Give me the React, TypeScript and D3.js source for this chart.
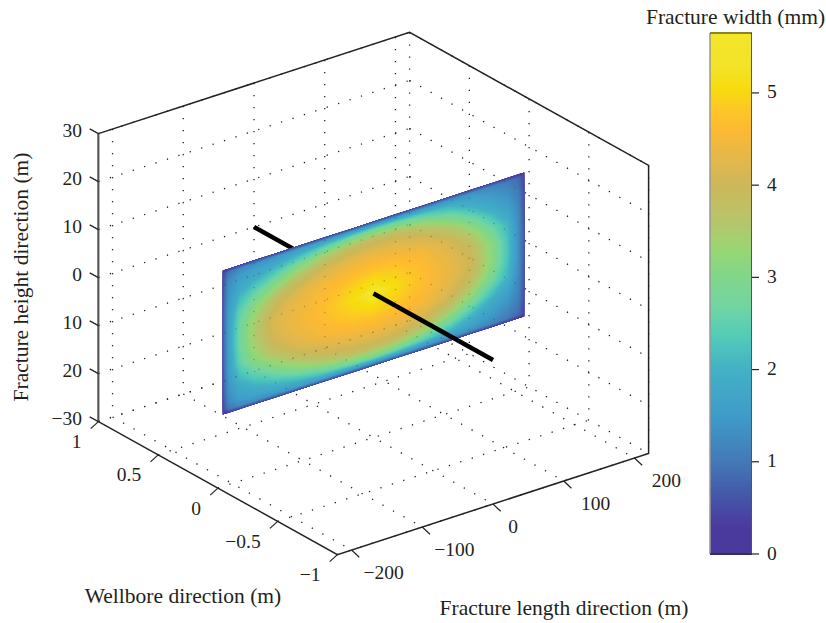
import React from "react";
import * as d3 from "d3";

const WIDTH = 826;
const HEIGHT = 623;
const FONT = "'Liberation Serif', serif";
const INK = "#231f20";

// axis extents and ticks
const xExtent = [-220, 220];
const yExtent = [1, -1];
const zExtent = [-30, 30];
const xTicks = [-200, -100, 0, 100, 200];
const xTickLabels = ["\u2212200", "\u2212100", "0", "100", "200"];
const yTicks = [1, 0.5, 0, -0.5, -1];
const yTickLabels = ["1", "0.5", "0", "\u22120.5", "\u22121"];
const zTicks = [30, 20, 10, 0, -10, -20, -30];
const zTickLabels = ["30", "20", "10", "0", "10", "20", "\u221230"];
const barTicks = [0, 1, 2, 3, 4, 5];
const barMax = 5.65;

// colour bar
const colorValues = [0, 0.3, 0.6, 1, 1.5, 2, 2.35, 2.7, 3, 3.3, 3.6, 4, 4.3, 4.6, 4.8, 5.05, 5.3, 5.65];
const colorHexes = [
  "#4b3a9e", "#4b3a9e", "#4555a8", "#4379b6", "#3f9cc9", "#43b1c5", "#52cbb8", "#74d5a2", "#80d68a",
  "#99d673", "#b6c56b", "#cdb759", "#e5b84a", "#fdb932", "#fdc628", "#f7dc0e", "#f3e32a", "#f3e627",
];

// the fracture plane: sample positions (m) and widths (mm) read by eye
const lengthNodes = [-213, -205, -190, -170, -140, -110, -70, -30, 0, 30, 70, 110, 140, 170, 190, 205, 213];
const heightNodes = [15, 14.25, 13, 11, 8.5, 5.5, 2.5, 0, -2.5, -5.5, -8.5, -11, -13, -14.25, -15];
const widthRows = [
  [0.3, 0.35, 0.38, 0.4, 0.42, 0.45, 0.45, 0.45, 0.45, 0.45, 0.45, 0.42, 0.4, 0.38, 0.35, 0.32, 0.3],
  [0.45, 1.0, 1.25, 1.35, 1.45, 1.55, 1.65, 1.65, 1.7, 1.65, 1.55, 1.45, 1.35, 1.2, 1.05, 0.85, 0.45],
  [0.55, 1.2, 1.5, 1.65, 1.8, 2.05, 2.5, 2.9, 3.0, 2.9, 2.45, 2.0, 1.7, 1.4, 1.2, 0.95, 0.5],
  [0.6, 1.35, 1.7, 1.95, 2.35, 2.9, 3.5, 3.85, 3.9, 3.85, 3.45, 2.75, 2.1, 1.65, 1.4, 1.1, 0.55],
  [0.65, 1.45, 2.05, 2.5, 3.1, 3.65, 4.1, 4.3, 4.35, 4.3, 4.1, 3.55, 2.85, 2.05, 1.65, 1.2, 0.6],
  [0.7, 1.55, 2.45, 3.1, 3.8, 4.2, 4.5, 4.65, 4.7, 4.65, 4.5, 4.1, 3.55, 2.65, 2.05, 1.3, 0.65],
  [0.7, 1.6, 2.65, 3.4, 4.1, 4.4, 4.65, 4.95, 5.1, 4.95, 4.65, 4.3, 3.9, 3.05, 2.2, 1.35, 0.7],
  [0.7, 1.6, 2.7, 3.5, 4.2, 4.45, 4.7, 5.1, 5.65, 5.1, 4.7, 4.35, 4.0, 3.1, 2.25, 1.35, 0.7],
  [0.7, 1.6, 2.65, 3.4, 4.1, 4.4, 4.65, 4.95, 5.1, 4.95, 4.65, 4.3, 3.9, 3.05, 2.2, 1.35, 0.7],
  [0.7, 1.55, 2.5, 3.15, 3.8, 4.2, 4.5, 4.65, 4.7, 4.65, 4.5, 4.1, 3.55, 2.65, 2.05, 1.3, 0.65],
  [0.65, 1.45, 2.1, 2.55, 3.1, 3.65, 4.1, 4.3, 4.35, 4.3, 4.1, 3.55, 2.85, 2.05, 1.65, 1.2, 0.6],
  [0.6, 1.35, 1.75, 2.0, 2.4, 2.9, 3.5, 3.85, 3.9, 3.85, 3.45, 2.75, 2.1, 1.65, 1.4, 1.1, 0.55],
  [0.55, 1.2, 1.55, 1.7, 1.85, 2.05, 2.5, 2.9, 3.0, 2.9, 2.45, 2.0, 1.7, 1.4, 1.2, 0.95, 0.5],
  [0.45, 1.0, 1.25, 1.35, 1.45, 1.55, 1.65, 1.65, 1.7, 1.65, 1.55, 1.45, 1.35, 1.2, 1.05, 0.85, 0.45],
  [0.3, 0.35, 0.38, 0.4, 0.42, 0.45, 0.45, 0.45, 0.45, 0.45, 0.45, 0.42, 0.4, 0.38, 0.35, 0.32, 0.3],
];

// the wellbore runs along y through the middle of the plane
const wellboreBehind = [1, 0];
const wellboreFront = [0, -1];

const color = d3.scaleLinear<string>().domain(colorValues).range(colorHexes).interpolate(d3.interpolateRgb);

// oblique projection, one screen offset per data axis
const xToPx = d3.scaleLinear().domain(xExtent).range([-155.6, 155.6]);
const xToPy = d3.scaleLinear().domain(xExtent).range([50.6, -50.6]);
const yToPx = d3.scaleLinear().domain(yExtent).range([-119.5, 119.5]);
const yToPy = d3.scaleLinear().domain(yExtent).range([-66.5, 66.5]);
const zToPy = d3.scaleLinear().domain(zExtent).range([144, -144]);

const project = (x: number, y: number, z: number): [number, number] => [
  373.5 + xToPx(x) + yToPx(y),
  293.5 + xToPy(x) + yToPy(y) + zToPy(z),
];

const line = d3.line();

// grid coordinates from d3.contours back to metres
const gridX = d3.scaleLinear().domain(lengthNodes.map((_, i) => i + 0.5)).range(lengthNodes).clamp(true);
const gridZ = d3.scaleLinear().domain(heightNodes.map((_, i) => i + 0.5)).range(heightNodes).clamp(true);

const planeProjection = d3.geoTransform({
  point(gx: number, gy: number) {
    const [px, py] = project(gridX(gx), 0, gridZ(gy));
    this.stream.point(px, py);
  },
});
const planePath = d3.geoPath(planeProjection);

const thresholds = d3.range(0, 5.66, 0.04);
const bands = d3
  .contours()
  .size([lengthNodes.length, heightNodes.length])
  .thresholds(thresholds)(widthRows.flat());

const barScale = d3.scaleLinear().domain([0, barMax]).range([554, 33]);
const barSteps = d3.range(0, barMax, 0.02);

function GridLines() {
  const segments: [number, number][][] = [];
  const [x0, x1] = xExtent;
  const [y0, y1] = yExtent;
  const [z0, z1] = zExtent;
  // wall at y = 1
  xTicks.forEach((x) => segments.push([project(x, y0, z1), project(x, y0, z0)]));
  zTicks.forEach((z) => segments.push([project(x0, y0, z), project(x1, y0, z)]));
  // wall at the far x end
  yTicks.forEach((y) => segments.push([project(x1, y, z1), project(x1, y, z0)]));
  zTicks.forEach((z) => segments.push([project(x1, y0, z), project(x1, y1, z)]));
  // floor
  xTicks.forEach((x) => segments.push([project(x, y0, z0), project(x, y1, z0)]));
  yTicks.forEach((y) => segments.push([project(x0, y, z0), project(x1, y, z0)]));
  return (
    <g fill="none" stroke="#222" strokeWidth={1.3} strokeDasharray="1.3 10.7">
      {segments.map((s, i) => (
        <path key={i} d={line(s) || ""} />
      ))}
    </g>
  );
}

export default function App() {
  const [x0, x1] = xExtent;
  const [y0, y1] = yExtent;
  const [z0, z1] = zExtent;
  const outline = [
    project(x0, y0, z1),
    project(x1, y0, z1),
    project(x1, y1, z1),
    project(x1, y1, z0),
    project(x0, y1, z0),
    project(x0, y0, z0),
  ];
  const planeCorners = [
    project(lengthNodes[0], 0, heightNodes[0]),
    project(lengthNodes[16], 0, heightNodes[0]),
    project(lengthNodes[16], 0, heightNodes[14]),
    project(lengthNodes[0], 0, heightNodes[14]),
  ];
  const tickText = { fontFamily: FONT, fontSize: 19.5, fill: INK };
  const titleText = { fontFamily: FONT, fontSize: 21.5, fill: INK };

  return (
    <svg width={WIDTH} height={HEIGHT} style={{ position: "absolute", left: 0, top: 0, background: "#fff" }}>
      <defs>
        <clipPath id="plane-clip">
          <path d={(line(planeCorners) || "") + "Z"} />
        </clipPath>
        <filter id="soft" x="-5%" y="-5%" width="110%" height="110%">
          <feGaussianBlur stdDeviation="0.5" />
        </filter>
      </defs>

      <GridLines />

      <path
        d={line(wellboreBehind.map((y) => project(0, y, 0))) || ""}
        stroke="#000"
        strokeWidth={4.5}
        fill="none"
      />

      <g filter="url(#soft)">
        {bands.map((b, i) => (
          <path key={i} d={planePath(b) || ""} fill={color(b.value)} />
        ))}
      </g>

      <g clipPath="url(#plane-clip)" opacity={0.3}>
        <GridLines />
      </g>

      <path
        d={line(wellboreFront.map((y) => project(0, y, 0))) || ""}
        stroke="#000"
        strokeWidth={4.5}
        fill="none"
      />

      {/* box outline */}
      <path d={(line(outline) || "") + "Z"} fill="none" stroke="#222" strokeWidth={1.5} />
      <path d={line([project(x0, y0, z1), project(x0, y0, z0)]) || ""} stroke="#555" strokeWidth={1.8} />

      {/* z axis */}
      {zTicks.map((z, i) => {
        const [px, py] = project(x0, y0, z);
        return (
          <g key={z}>
            <path d={line([[px, py], [px - 8.7, py - 4.7]]) || ""} stroke="#222" strokeWidth={1.2} />
            <text {...tickText} x={82} y={py - 3} textAnchor="end" dominantBaseline="central">
              {zTickLabels[i]}
            </text>
          </g>
        );
      })}

      {/* y axis */}
      {yTicks.map((y, i) => {
        const [px, py] = project(x0, y, z0);
        return (
          <g key={y}>
            <path d={line([[px, py], [px - 7.7, py + 7]]) || ""} stroke="#222" strokeWidth={1.2} />
            <text {...tickText} x={px - 17} y={py + 20} textAnchor="end" dominantBaseline="central">
              {yTickLabels[i]}
            </text>
          </g>
        );
      })}

      {/* x axis */}
      {xTicks.map((x, i) => {
        const [px, py] = project(x, y1, z0);
        return (
          <g key={x}>
            <path d={line([[px, py], [px + 7.7, py + 7.3]]) || ""} stroke="#222" strokeWidth={1.2} />
            <text
              {...tickText}
              x={px + (x === 0 ? 20 : 32)}
              y={py + 22}
              textAnchor="middle"
              dominantBaseline="central"
            >
              {xTickLabels[i]}
            </text>
          </g>
        );
      })}

      <text {...titleText} transform="translate(28,277) rotate(-90)" textAnchor="middle">
        Fracture height direction (m)
      </text>
      <text {...titleText} x={183} y={603} textAnchor="middle">
        Wellbore direction (m)
      </text>
      <text {...titleText} x={564} y={615} textAnchor="middle">
        Fracture length direction (m)
      </text>

      {/* colour bar */}
      <g shapeRendering="crispEdges">
        {barSteps.map((v) => (
          <rect
            key={v}
            x={710}
            y={barScale(v + 0.02)}
            width={42}
            height={barScale(v) - barScale(v + 0.02) + 0.5}
            fill={color(v)}
          />
        ))}
      </g>
      <path d="M710,33V554" stroke="#999" strokeWidth={1.5} />
      <path d="M751.5,33V554" stroke="#555" strokeWidth={1} />
      <path d="M710,33H752M710,554H752" stroke="#222" strokeWidth={1.2} />
      {barTicks.map((t) => (
        <g key={t}>
          <path d={`M752,${barScale(t)}H759`} stroke="#222" strokeWidth={1.2} />
          <text {...tickText} x={767} y={barScale(t) - 1} dominantBaseline="central">
            {t}
          </text>
        </g>
      ))}
      <text {...titleText} x={735.5} y={24} textAnchor="middle">
        Fracture width (mm)
      </text>
    </svg>
  );
}
